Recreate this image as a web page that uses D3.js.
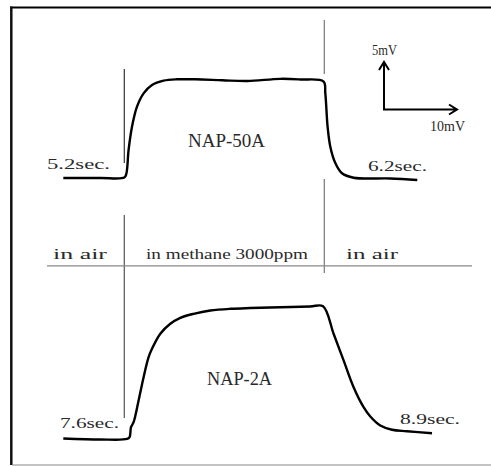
<!DOCTYPE html>
<html>
<head>
<meta charset="utf-8">
<script src="https://cdn.jsdelivr.net/npm/d3@7/dist/d3.min.js"></script>
<style>
  html, body { margin: 0; padding: 0; background: #fff; }
  svg { display: block; }
  text { font-family: "Liberation Serif", "DejaVu Serif", serif; fill: #2a2a2a; }
</style>
</head>
<body>
<script>
// Time (arbitrary units, gas switched on at t=0, off at t=20) and signal (mV)
const nap50A_t = [-6.1, -2.4, 0, 0.2, 0.43, 0.77, 1.27, 1.93, 2.77, 3.93, 5.27, 7.1, 9.8, 12.3, 15.6, 17.6, 19.93, 20.1, 20.33, 20.6, 21.1, 21.77, 22.93, 26.6, 29.3];
const nap50A_v = [0, 0, 0.05, 0.42, 2.92, 5.34, 7.43, 8.82, 9.69, 10.14, 10.28, 10.28, 10.18, 10.1, 10.33, 10.26, 10.05, 8.85, 5.34, 3.26, 1.56, 0.49, 0.03, -0.05, -0.21];

const nap2A_t = [-6.1, -2.4, 0.27, 0.53, 0.67, 0.93, 1.43, 1.93, 2.43, 2.77, 3.6, 4.6, 5.6, 6.93, 8.6, 10.6, 12.6, 15.6, 18.6, 19.87, 20.93, 21.93, 22.93, 23.93, 24.6, 25.6, 26.77, 28.27, 30.77];
const nap2A_v = [0, -0.1, -0.05, 0.14, 1.18, 1.7, 3.96, 6.39, 8.47, 9.34, 10.91, 11.95, 12.57, 12.99, 13.33, 13.51, 13.59, 13.67, 13.75, 13.78, 10.91, 8.13, 5.34, 3.26, 2.29, 1.35, 0.91, 0.76, 0.55];

const sensorNames = ["NAP-50A", "NAP-2A"];
const responseTimes = ["5.2sec.", "6.2sec.", "7.6sec.", "8.9sec."];
const phaseLabels = ["in air", "in methane 3000ppm", "in air"];
const switchTimes = [0, 20];
const scaleLabels = ["5mV", "10mV"];

const W = 491, H = 466;
const svg = d3.select("body").append("svg").attr("width", W).attr("height", H);

const x = d3.scaleLinear().domain([0, 10]).range([124.3, 224.3]);
const yTop = d3.scaleLinear().domain([0, 10]).range([178, 82]);
const yBot = d3.scaleLinear().domain([0, 10]).range([438.5, 342.5]);

// frame
svg.append("line").attr("x1", 10).attr("x2", W).attr("y1", 7.5).attr("y2", 7.5)
  .attr("stroke", "#000").attr("stroke-width", 2.2);
svg.append("line").attr("x1", 11.3).attr("x2", 11.3).attr("y1", 6.5).attr("y2", 465)
  .attr("stroke", "#111").attr("stroke-width", 2.5);
svg.append("line").attr("x1", 12).attr("x2", W).attr("y1", 465).attr("y2", 465)
  .attr("stroke", "#888").attr("stroke-width", 1);

// switch markers (vertical lines)
const segs = [
  [switchTimes[0], 69, 163, "#333"], [switchTimes[0], 215, 418, "#555"],
  [switchTimes[1], 20, 74, "#777"], [switchTimes[1], 179, 273, "#777"]
];
segs.forEach(s => {
  svg.append("line").attr("x1", x(s[0])).attr("x2", x(s[0]))
    .attr("y1", s[1]).attr("y2", s[2]).attr("stroke", s[3]).attr("stroke-width", 1.2);
});

// horizontal divider
svg.append("line").attr("x1", 47).attr("x2", 472).attr("y1", 265.8).attr("y2", 265.8)
  .attr("stroke", "#888").attr("stroke-width", 1.2);

// curves
const line50 = d3.line().x(d => x(d[0])).y(d => yTop(d[1])).curve(d3.curveCatmullRom.alpha(0.5));
const line2 = d3.line().x(d => x(d[0])).y(d => yBot(d[1])).curve(d3.curveCatmullRom.alpha(0.5));
svg.append("path").datum(d3.zip(nap50A_t, nap50A_v)).attr("d", line50)
  .attr("fill", "none").attr("stroke", "#000").attr("stroke-width", 2.4).attr("stroke-linejoin", "round");
svg.append("path").datum(d3.zip(nap2A_t, nap2A_v)).attr("d", line2)
  .attr("fill", "none").attr("stroke", "#000").attr("stroke-width", 2.4).attr("stroke-linejoin", "round");

// text helper
function txt(str, x0, y0, size, len) {
  svg.append("text").attr("x", x0).attr("y", y0).attr("font-size", size)
    .attr("textLength", len).attr("lengthAdjust", "spacingAndGlyphs").text(str);
}
txt(sensorNames[0], 188, 147, 18, 77);
txt(sensorNames[1], 207, 385, 18, 65);
txt(responseTimes[0], 47, 169, 14, 63);
txt(responseTimes[1], 368, 171, 14, 59);
txt(responseTimes[2], 60, 427.5, 14, 59);
txt(responseTimes[3], 400, 423.5, 14, 60);
txt(phaseLabels[0], 53, 259, 15, 54);
txt(phaseLabels[1], 146, 259, 15, 162);
txt(phaseLabels[2], 346, 259, 15, 52);
txt(scaleLabels[0], 372, 55, 14, 25);
txt(scaleLabels[1], 430, 131, 14, 35);

// scale arrows
const ax = 384, ay = 109.5;
const arr = svg.append("g").attr("stroke", "#000").attr("stroke-width", 2).attr("fill", "none");
arr.append("path").attr("d", `M${ax},${ay} V62 M${ax - 5},70 L${ax},62 L${ax + 5},70`);
arr.append("path").attr("d", `M${ax - 1},${ay} H457 M449,${ay - 5} L457,${ay} L449,${ay + 5}`);
</script>
</body>
</html>
